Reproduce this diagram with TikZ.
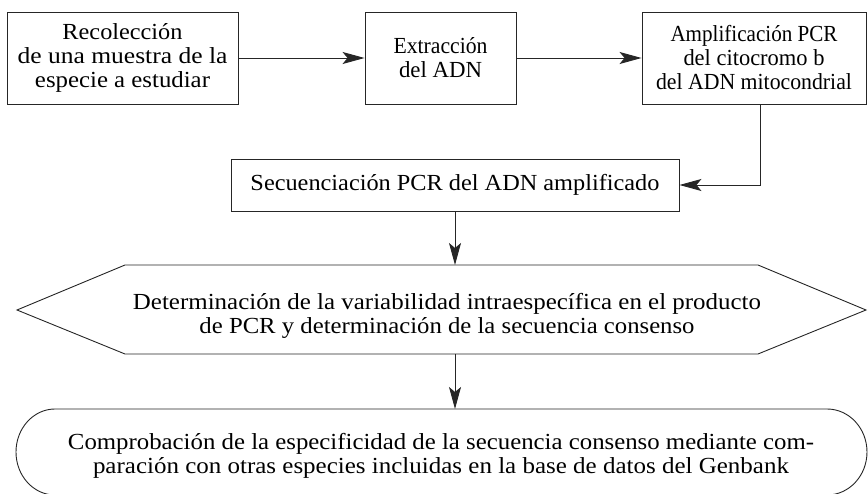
\documentclass[tikz,border=0pt]{standalone}
\usepackage{graphicx}
\usepackage{fontspec}
\setmainfont{Liberation Serif}
\usetikzlibrary{arrows.meta}
\newcommand{\fw}[2]{\resizebox{#1pt}{\height}{#2}}
\begin{document}
\begin{tikzpicture}[x=1pt,y=-1pt,line width=0.9pt,
  ln/.style={draw=black!85},
  box/.style={draw=black!85, inner sep=0pt, align=center, font=\fontsize{23}{24}\selectfont},
  lbl/.style={inner sep=0pt, align=center, font=\fontsize{23}{24}\selectfont},
  arr/.style={draw=black!85, -{Stealth[length=22pt,width=12pt,inset=5pt]}}]
\useasboundingbox (0,0) rectangle (868,494);

\node[box, minimum width=231pt, minimum height=92pt] (b1) at (122.5,58)
  {\fw{120}{Recolección}\\ \fw{210}{de una muestra de la}\\ \fw{175}{especie a estudiar}};
\node[box, minimum width=151pt, minimum height=92pt] (b2) at (440.5,58)
  {\fw{94}{Extracción}\\ \fw{83}{del ADN}};
\node[box, minimum width=224pt, minimum height=92pt] (b3) at (754,58)
  {\fw{167}{Amplificación PCR}\\ \fw{141}{del citocromo b}\\ \fw{196}{del ADN mitocondrial}};
\node[box, minimum width=448pt, minimum height=52pt] (b4) at (455,185)
  {\fw{409}{Secuenciación PCR del ADN amplificado}};

% hexagon
\coordinate (hL) at (17,310);
\coordinate (hTL) at (125,265);
\coordinate (hTR) at (758,265);
\coordinate (hR) at (866,310);
\coordinate (hBR) at (758,354);
\coordinate (hBL) at (125,354);
\draw[ln] (hL) -- (hTL) -- (hTR) -- (hR) -- (hBR) -- (hBL) -- cycle;
\node[lbl] (ht) at (447,316)
  {\fw{628}{Determinación de la variabilidad intraespecífica en el producto}\\
   \fw{495}{de PCR y determinación de la secuencia consenso}};
\coordinate (hT) at (455,265);
\coordinate (hB) at (455,354);

% rounded terminal
\draw[ln] (55,409) -- (827,409)
  arc[start angle=-90, end angle=90, x radius=40, y radius=43]
  -- (55,495)
  arc[start angle=90, end angle=270, x radius=39, y radius=43] -- cycle;
\node[lbl] (bt) at (441,456)
  {\fw{746}{Comprobación de la especificidad de la secuencia consenso mediante com-}\\
   \fw{696}{paración con otras especies incluidas en la base de datos del Genbank}};
\coordinate (rT) at (455,409);

% connectors
\draw[arr] (b1) -- (b2);
\draw[arr] (b2) -- (b3);
\draw[arr] ([xshift=6pt]b3.south) |- (b4.east);
\draw[arr] (b4.south) -- (hT);
\draw[arr] (hB) -- (rT);
\end{tikzpicture}
\end{document}
